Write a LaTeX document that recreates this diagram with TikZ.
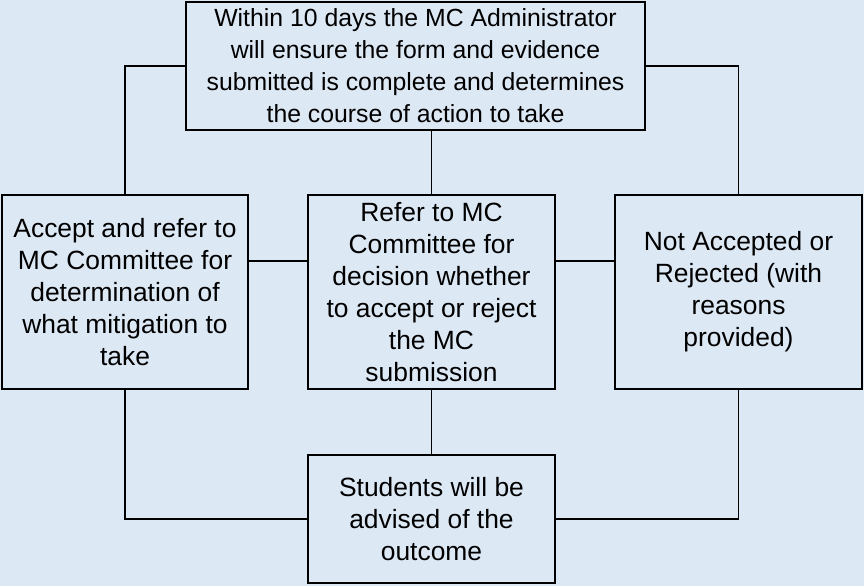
\documentclass[tikz,border=0pt]{standalone}
\usepackage{fontspec}
\setmainfont{Liberation Sans}
\definecolor{paleblue}{HTML}{DDE8F5}
\begin{document}
\begin{tikzpicture}[x=1pt,y=-1pt,
  box/.style={draw=black, line width=1.6pt, fill=paleblue, inner sep=0pt,
    align=center, font=\fontsize{26.4}{32}\selectfont},
  headbox/.style={box, font=\fontsize{24.8}{32}\selectfont},
  link/.style={draw=black, line width=1.6pt}]
  \fill[paleblue] (0,0) rectangle (864,586);
  \useasboundingbox (0,0) rectangle (864,586);

  \node[headbox, minimum width=459pt, minimum height=128pt] (top) at (415.5,66)
    {Within 10 days the MC Administrator\\will ensure the form and evidence\\submitted is complete and determines\\the course of action to take};
  \node[box, minimum width=246pt, minimum height=194pt] (left) at (125,292)
    {Accept and refer to\\MC Committee for\\determination of\\what mitigation to\\take};
  \node[box, minimum width=247pt, minimum height=194pt] (mid) at (431.5,292)
    {Refer to MC\\Committee for\\decision whether\\to accept or reject\\the MC\\submission};
  \node[box, minimum width=247pt, minimum height=194pt] (right) at (738.5,292)
    {Not Accepted or\\Rejected (with\\reasons\\provided)};
  \node[box, minimum width=247pt, minimum height=128pt] (bot) at (431.5,519)
    {Students will be\\advised of the\\outcome};

  \draw[link] (top.west) -| (left.north);
  \draw[link] (top.east) -| (right.north);
  \draw[link] (mid.north) -- (mid.north |- top.south);
  \draw[link] ([yshift=31pt]left.east) -- ([yshift=31pt]mid.west);
  \draw[link] ([yshift=31pt]mid.east) -- ([yshift=31pt]right.west);
  \draw[link] (mid.south) -- (bot.north);
  \draw[link] (left.south) |- (bot.west);
  \draw[link] (right.south) |- (bot.east);
\end{tikzpicture}
\end{document}
